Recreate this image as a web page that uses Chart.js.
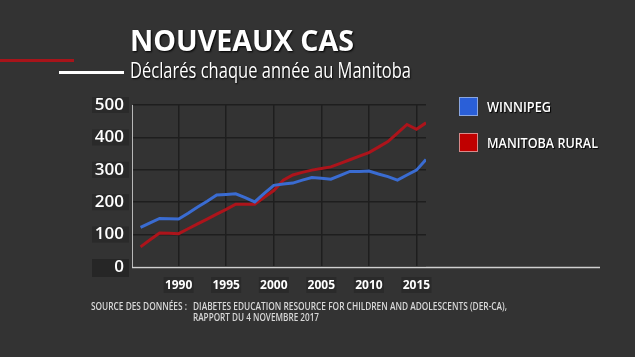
<!DOCTYPE html>
<html><head><meta charset="utf-8">
<script src="https://cdn.jsdelivr.net/npm/chart.js@4"></script>
<style>
html,body{margin:0;padding:0;background:#333333;width:635px;height:357px;overflow:hidden;}
#wrap{position:absolute;left:0;top:0;width:635px;height:357px;}
.t{position:absolute;white-space:nowrap;transform-origin:0 50%;color:#fff;}
#title{left:130px;top:22px;font:700 28px "Open Sans";line-height:36px;text-shadow:1px 1px 2px #000;}
#sub{left:130px;top:55px;font:400 22px "Open Sans";line-height:28px;text-shadow:1px 1px 2px #000;}
.bar{position:absolute;height:3px;}
.src{font:600 10px "Open Sans";color:#d8d8d8;line-height:12px;}
.leg{font:600 14px "Open Sans";line-height:20px;text-shadow:1px 1px 1px #000;}
.box{position:absolute;width:17px;height:17px;border:1px solid;}
</style></head>
<body>
<div id="wrap"><canvas id="c" width="635" height="357"></canvas></div>
<div class="bar" style="left:0;top:59px;width:74px;background:#a8141a;"></div>
<div class="bar" style="left:59px;top:71px;width:65px;background:#ffffff;"></div>
<div id="title" class="t" data-w="224">NOUVEAUX CAS</div>
<div id="sub" class="t" data-w="281">Déclarés chaque année au Manitoba</div>
<div class="t src" style="left:91px;top:300px;" data-w="96">SOURCE DES DONNÉES :</div>
<div class="t src" style="left:193px;top:300px;" data-w="314">DIABETES EDUCATION RESOURCE FOR CHILDREN AND ADOLESCENTS (DER-CA),</div>
<div class="t src" style="left:193px;top:311px;" data-w="126">RAPPORT DU 4 NOVEMBRE 2017</div>
<div id="legend"></div>
<script>
const years = [1986,1987,1988,1989,1990,1991,1992,1993,1994,1995,1996,1997,1998,1999,2000,2001,2002,2003,2004,2005,2006,2007,2008,2009,2010,2011,2012,2013,2014,2015,2016];
const winnipeg = [122,136,150,149,148,166,185,203,222,224,226,214,201,227,252,256,259,268,276,274,271,283,295,295,296,287,279,268,284,299,332];
const manitobaRural = [62,84,105,104,103,118,133,148,163,178,194,194,194,215,236,268,284,292,299,304,309,320,331,342,353,370,387,413,440,425,445];
const xTickLabels = [1990,1995,2000,2005,2010,2015];
const yTickLabels = [0,100,200,300,400,500];
const seriesNames = ['WINNIPEG','MANITOBA RURAL'];
const lineColors = ['#3a6cd2','#ad141b'];
const boxColors = ['#2a5fd8','#c00000'];
const boxBorders = ['#8aa6e0','#d88a8a'];

// legend
const legEl = document.getElementById('legend');
seriesNames.forEach((n,i)=>{
  const b=document.createElement('div');b.className='box';
  b.style.left='459px';b.style.top=(97+i*36)+'px';b.style.background=boxColors[i];b.style.borderColor=boxBorders[i];
  legEl.appendChild(b);
  const t=document.createElement('div');t.className='t leg';t.textContent=n;
  t.style.left='487px';t.style.top=(97+i*36)+'px';t.dataset.w=(i===0?64:111);
  legEl.appendChild(t);
});

function fitTexts(){
  document.querySelectorAll('[data-w]').forEach(el=>{
    el.style.transform='none';
    const w=el.getBoundingClientRect().width;
    const target=+el.dataset.w;
    el.style.transform='scaleX('+(target/w)+')';
  });
}
fitTexts();
if(document.fonts&&document.fonts.ready){document.fonts.ready.then(fitTexts);}

const labelBg = {
  id:'labelBg',
  beforeDraw(chart){
    const ctx=chart.ctx;
    ctx.save();
    const ys=chart.scales.y;
    yTickLabels.forEach(v=>{
      const py=ys.getPixelForValue(v);
      if(v===0){ctx.fillStyle='#262626';ctx.fillRect(92,py-8,37,18);}
      else{ctx.fillStyle='#2a2a2a';ctx.fillRect(92,py-8,37,16);}
    });
    const xs=chart.scales.x;
    ctx.fillStyle='#2a2a2a';
    xTickLabels.forEach(v=>{
      const px=xs.getPixelForValue(v);
      ctx.fillRect(px-15,277,30,16);
    });
    ctx.restore();
  },
  afterDraw(chart){
    const ctx=chart.ctx, a=chart.chartArea;
    ctx.save();
    ctx.strokeStyle='#d0d0d0';ctx.lineWidth=1.5;
    ctx.beginPath();ctx.moveTo(a.left,a.bottom+0.5);ctx.lineTo(600,a.bottom+0.5);ctx.stroke();
    ctx.restore();
  }
};

new Chart(document.getElementById('c'),{
  type:'line',
  data:{datasets:[
    {label:seriesNames[0],data:years.map((y,i)=>({x:y,y:winnipeg[i]})),borderColor:lineColors[0],borderWidth:3,pointRadius:0,tension:0,fill:false},
    {label:seriesNames[1],data:years.map((y,i)=>({x:y,y:manitobaRural[i]})),borderColor:lineColors[1],borderWidth:3,pointRadius:0,tension:0,fill:false}
  ]},
  options:{
    responsive:false,animation:false,
    layout:{padding:{left:0,top:105,right:209,bottom:60}},
    plugins:{legend:{display:false},tooltip:{enabled:false},title:{display:false}},
    scales:{
      x:{type:'linear',min:1985.1,max:2016,
        afterBuildTicks(s){s.ticks=xTickLabels.map(v=>({value:v}));},
        afterFit(s){s.height=30;},
        grid:{color:'#1e1e1e',lineWidth:1.5,drawTicks:false},
        border:{display:false},
        ticks:{color:'#ffffff',font:{family:'Open Sans',size:12,weight:'700'},padding:11,maxRotation:0,callback:v=>String(v)}
      },
      y:{min:0,max:500,
        afterBuildTicks(s){s.ticks=yTickLabels.map(v=>({value:v}));},
        afterFit(s){s.width=132;},
        grid:{color:'#1e1e1e',lineWidth:1.5,drawTicks:false},
        border:{display:true,color:'#b8b8b8',width:1},
        ticks:{color:'#ffffff',font:{family:'Open Sans',size:17,weight:'600'},padding:8,callback:v=>String(v)}
      }
    }
  },
  plugins:[labelBg]
});
</script>
</body></html>
